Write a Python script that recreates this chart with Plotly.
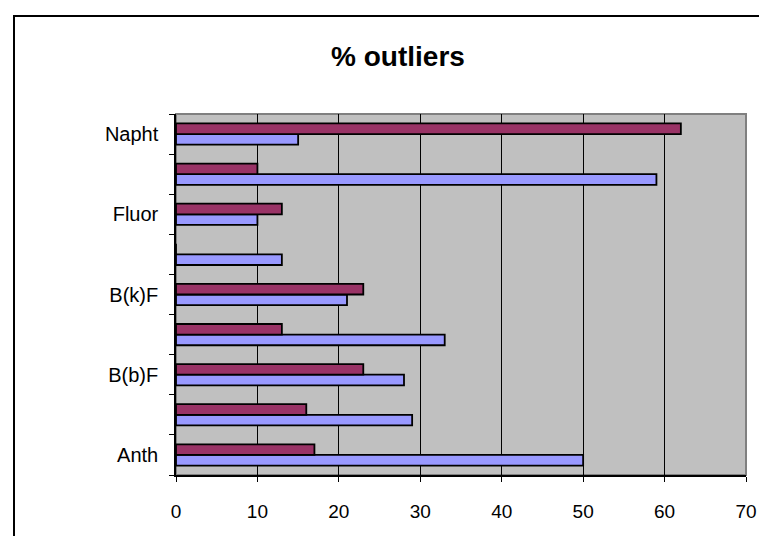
import plotly.graph_objects as go

categories = ["Anth", "", "B(b)F", "", "B(k)F", "", "Fluor", "", "Napht"]
series1_values = [50, 29, 28, 33, 21, 13, 10, 59, 15]   # blue (lower bar)
series2_values = [17, 16, 23, 13, 23, 0, 13, 10, 62]    # purple (upper bar)
x_ticks = [0, 10, 20, 30, 40, 50, 60, 70]

positions = list(range(len(categories)))
label_pos = [i for i, c in enumerate(categories) if c]
label_txt = [c for c in categories if c]

fig = go.Figure()
fig.add_trace(go.Bar(y=positions, x=series1_values, orientation="h", name="Series 1",
                     marker=dict(color="#9999FF", line=dict(color="black", width=1.8))))
fig.add_trace(go.Bar(y=positions, x=series2_values, orientation="h", name="Series 2",
                     marker=dict(color="#993366", line=dict(color="black", width=1.8))))

L, R, T, B = 168, 738, 106, 467
W, H = 767, 536
pw, ph = R - L, B - T

FONT = "Liberation Sans, Arial, sans-serif"

fig.update_layout(
    width=W, height=H,
    margin=dict(l=L, r=W - R, t=T, b=H - B, pad=0),
    paper_bgcolor="white",
    plot_bgcolor="#C0C0C0",
    barmode="group",
    bargap=0.47,
    bargroupgap=0,
    showlegend=False,
    font=dict(family=FONT, size=19, color="black"),
    title=dict(text="<b>% outliers</b>", x=390 / W, xanchor="center", xref="container",
               y=1 - 48 / H, yanchor="middle", yref="container",
               font=dict(size=28, family=FONT)),
    xaxis=dict(range=[0, 70], tickvals=x_ticks, ticks="outside", ticklen=5, tickcolor="black",
               showline=True, linecolor="black", linewidth=1.5, showgrid=True, gridcolor="black",
               gridwidth=1, zeroline=False, ticklabelstandoff=13, fixedrange=True,
               tickfont=dict(size=19)),
    yaxis=dict(range=[-0.5, len(categories) - 0.5], tickvals=label_pos, ticktext=label_txt,
               ticks="", showline=True, linecolor="black", linewidth=1.5, showgrid=False,
               zeroline=False, ticklabelstandoff=12, tickfont=dict(size=20),
               minor=dict(tickmode="linear", tick0=-0.5, dtick=1, ticks="outside", ticklen=5,
                          tickcolor="black", showgrid=False)),
    shapes=[
        dict(type="rect", xref="paper", yref="paper", x0=0, x1=1, y0=0, y1=1,
             line=dict(color="#808080", width=2), layer="below"),
        dict(type="rect", xref="paper", yref="paper",
             x0=(6 - L) / pw, x1=(775 - L) / pw,
             y0=(B - 545) / ph, y1=(B - 8) / ph,
             line=dict(color="black", width=2), fillcolor="rgba(0,0,0,0)", layer="above"),
    ],
)

fig.write_html("out.html")
